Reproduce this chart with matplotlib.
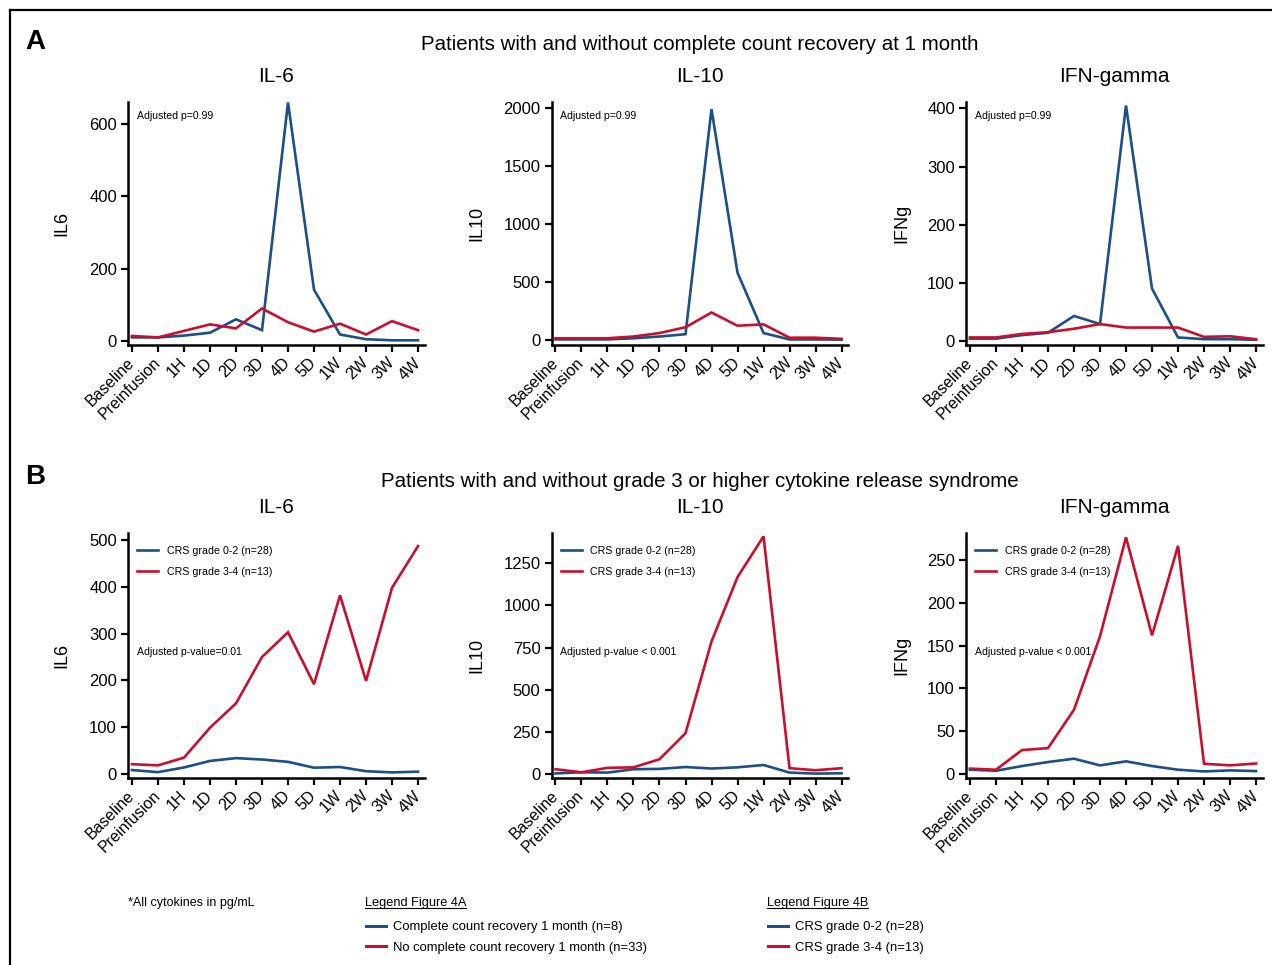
import matplotlib
matplotlib.use("Agg")
import matplotlib.pyplot as plt
from matplotlib.lines import Line2D
import numpy as np

plt.rcParams['font.family'] = ['Liberation Sans', 'DejaVu Sans']

#%% data
timepoints = ['Baseline', 'Preinfusion', '1H', '1D', '2D', '3D', '4D', '5D', '1W', '2W', '3W', '4W']

# Figure 4A: complete count recovery at 1 month (blue) vs not (red)
a_il6_cr = [10, 10, 15, 23, 60, 30, 660, 142, 18, 5, 2, 2]
a_il6_ncr = [14, 10, 28, 46, 35, 90, 52, 26, 48, 18, 55, 30]
a_il10_cr = [5, 5, 5, 15, 30, 50, 1990, 580, 60, 5, 5, 3]
a_il10_ncr = [15, 15, 15, 30, 60, 110, 237, 123, 135, 20, 20, 10]
a_ifn_cr = [4, 4, 10, 14, 43, 29, 405, 90, 6, 3, 3, 2]
a_ifn_ncr = [6, 6, 12, 15, 21, 29, 23, 23, 23, 7, 8, 3]

# Figure 4B: CRS grade 0-2 (blue) vs grade 3-4 (red)
b_il6_low = [8.5, 4, 14, 28, 34, 31, 26, 13.5, 15, 6, 3.5, 5]
b_il6_high = [21, 18.5, 35, 99, 151, 250, 303, 192, 382, 199, 398, 487]
b_il10_low = [5, 12, 10, 30, 32, 43, 34, 41, 55, 10, 4, 6]
b_il10_high = [30, 12, 38, 41, 89, 243, 786, 1167, 1408, 36, 24, 36]
b_ifn_low = [4.7, 3.5, 9, 13.7, 17.6, 9.8, 14.5, 9, 4.7, 2.7, 3.9, 3.1]
b_ifn_high = [6, 4.7, 27.7, 30, 75, 161, 277, 162, 267, 11.7, 9.8, 12]

titles = ['IL-6', 'IL-10', 'IFN-gamma']
ylabels = ['IL6', 'IL10', 'IFNg']
yticks_a = [[0, 200, 400, 600], [0, 500, 1000, 1500, 2000], [0, 100, 200, 300, 400]]
yticks_b = [[0, 100, 200, 300, 400, 500], [0, 250, 500, 750, 1000, 1250], [0, 50, 100, 150, 200, 250]]
ylims_a = [(-11, 661), (-43, 2051), (-7, 411)]
ylims_b = [(-8.5, 515), (-22, 1428), (-5, 282)]
p_a = ['Adjusted p=0.99'] * 3
p_b = ['Adjusted p-value=0.01', 'Adjusted p-value < 0.001', 'Adjusted p-value < 0.001']
lab_a = ['Complete count recovery 1 month (n=8)', 'No complete count recovery 1 month (n=33)']
lab_b = ['CRS grade 0-2 (n=28)', 'CRS grade 3-4 (n=13)']

BLUE = '#1b4f86'
RED = '#c8102e'

W, H = 1272, 965
fig = plt.figure(figsize=(W / 100, H / 100), dpi=100)

def px(x, y):
    # figure pixel (from top-left) -> figure fraction
    return x / W, 1 - y / H

lefts = [128, 551.5, 966]
width = 297


def draw_panel(ax, blue, red, yt, yl, title, ylabel, ptext, ppos, legend):
    x = np.arange(len(timepoints))
    ax.plot(x, blue, color=BLUE, lw=1.9, solid_joinstyle='miter', label=lab_b[0])
    ax.plot(x, red, color=RED, lw=1.9, solid_joinstyle='miter', label=lab_b[1])
    ax.set_xlim(-0.153, 11.268)
    ax.set_ylim(*yl)
    ax.set_yticks(yt)
    ax.set_xticks(x)
    ax.set_xticklabels(timepoints, rotation=45, ha='right', va='center',
                       rotation_mode='anchor', fontsize=11.5)
    ax.tick_params(axis='x', pad=6)
    ax.tick_params(axis='y', labelsize=12, pad=3)
    ax.tick_params(length=5, width=1.6, color='black')
    for s in ['top', 'right']:
        ax.spines[s].set_visible(False)
    for s in ['left', 'bottom']:
        ax.spines[s].set_linewidth(1.8)
    ax.set_ylabel(ylabel, fontsize=13)
    ax.text(0.5, 1 + 25 / 243, title, transform=ax.transAxes, ha='center',
            va='center', fontsize=15)
    ax.text(9 / width, ppos, ptext, transform=ax.transAxes, ha='left',
            va='center', fontsize=7.6)
    if legend:
        ax.legend(loc='upper left', bbox_to_anchor=(9 / width, 1 - 13 / 245),
                  frameon=False, fontsize=7.7, handlelength=2.0,
                  handletextpad=0.8, labelspacing=1.05, borderpad=0,
                  borderaxespad=0)


rows = [
    (345, 243, [a_il6_cr, a_il10_cr, a_ifn_cr], [a_il6_ncr, a_il10_ncr, a_ifn_ncr],
     yticks_a, ylims_a, p_a, 1 - 14 / 243, False),
    (778, 245, [b_il6_low, b_il10_low, b_ifn_low], [b_il6_high, b_il10_high, b_ifn_high],
     yticks_b, ylims_b, p_b, (778 - 652) / 245, True),
]
ylab_off = [58, 66, 56]
for bottom, h, blues, reds, yts, yls, ps, ppos, leg in rows:
    for i in range(3):
        l, b = px(lefts[i], bottom)
        ax = fig.add_axes([l, b, width / W, h / H])
        draw_panel(ax, blues[i], reds[i], yts[i], yls[i], titles[i], ylabels[i],
                   ps[i], ppos, leg)
        ax.yaxis.set_label_coords(-ylab_off[i] / width, 0.5)

# panel letters and headers
fig.text(*px(25, 42), 'A', fontsize=20, fontweight='bold', va='center', ha='left')
fig.text(*px(25, 477), 'B', fontsize=20, fontweight='bold', va='center', ha='left')
fig.text(*px(700, 45), 'Patients with and without complete count recovery at 1 month',
         fontsize=14.8, ha='center', va='center')
fig.text(*px(700, 481), 'Patients with and without grade 3 or higher cytokine release syndrome',
         fontsize=14.8, ha='center', va='center')

# outer frame
fig.add_artist(Line2D([10 / W, 1], [1 - 10 / H] * 2, color='black', lw=1.6))
fig.add_artist(Line2D([10 / W] * 2, [1 - 10 / H, 0], color='black', lw=1.6))

# footnote and shared legends
fig.text(*px(128, 903), '*All cytokines in pg/mL', fontsize=9, ha='left', va='center')
heads = []
for x0, head, labs in [(365, 'Legend Figure 4A', lab_a), (767, 'Legend Figure 4B', lab_b)]:
    t = fig.text(*px(x0, 903), head, fontsize=9.2, ha='left', va='center')
    heads.append((t, x0))
    handles = [Line2D([], [], color=BLUE, lw=2.2), Line2D([], [], color=RED, lw=2.2)]
    fig.legend(handles, labs, loc='upper left', bbox_to_anchor=px(x0 + 1, 921),
               frameon=False, fontsize=9.4, handlelength=1.5, handletextpad=0.6,
               labelspacing=0.65, borderpad=0, borderaxespad=0)

# underline headers
fig.canvas.draw()
r = fig.canvas.get_renderer()
for t, x0 in heads:
    bb = t.get_window_extent(renderer=r)
    fig.add_artist(Line2D([bb.x0 / W, bb.x1 / W], [(bb.y0 + 1) / H] * 2,
                          color='black', lw=0.8))

fig.savefig('out.png', dpi=100)
